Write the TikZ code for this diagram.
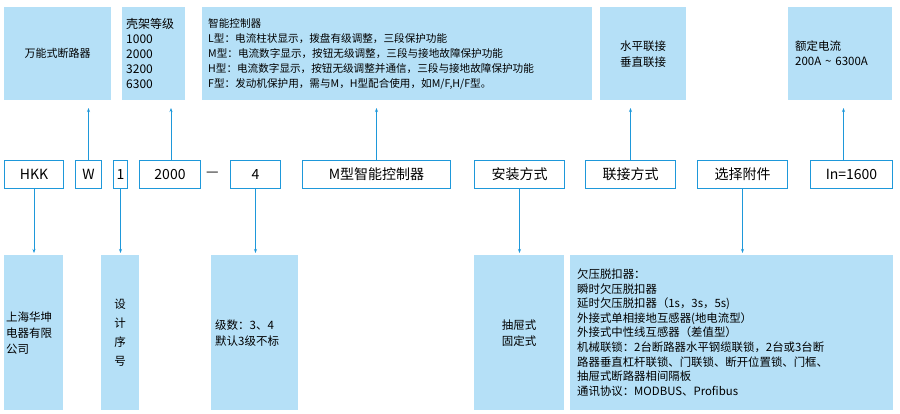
\documentclass[tikz,border=0pt]{standalone}
\usepackage{fontspec}
\setmainfont{Noto Sans CJK SC}
\usetikzlibrary{arrows.meta}
\definecolor{bl}{HTML}{1E98DA}
\definecolor{fl}{HTML}{B5E0F7}
\begin{document}
\begin{tikzpicture}[x=1pt,y=-1pt,
 fbox/.style={fill=fl,anchor=north west,inner sep=0pt,font=\fontsize{11}{14.5}\selectfont},
 code/.style={draw=bl,line width=1pt,fill=white,anchor=north west,inner sep=0pt,minimum height=28pt,font=\fontsize{14}{16}\selectfont},
 arr/.style={bl,line width=0.8pt,-{Stealth[length=4pt,width=3pt]}}]
\useasboundingbox (0,0) rectangle (900,414);
% top boxes
\node[fbox,minimum width=107pt,minimum height=93pt] (t1) at (4,7) {万能式断路器};
\node[fbox,minimum width=63pt,minimum height=93pt,align=left,text width=55pt,font=\fontsize{12}{15}\selectfont] (t2) at (122,7) {壳架等级\\1000\\2000\\3200\\6300};
\node[fbox,minimum width=390pt,minimum height=93pt,align=left,text width=378pt,font=\fontsize{10.6}{15}\selectfont] (t3) at (202,7) {智能控制器\\L型：电流柱状显示，拨盘有级调整，三段保护功能\\M型：电流数字显示，按钮无级调整，三段与接地故障保护功能\\H型：电流数字显示，按钮无级调整并通信，三段与接地故障保护功能\\F型：发动机保护用，需与M，H型配合使用，如M/F,H/F型。};
\node[fbox,minimum width=86pt,minimum height=93pt,align=center,font=\fontsize{11.5}{16}\selectfont] (t4) at (600,7) {水平联接\\垂直联接};
\node[fbox,minimum width=104pt,minimum height=93pt,align=left,text width=90pt,font=\fontsize{11.5}{15}\selectfont] (t5) at (788,7) {额定电流\\200A \textasciitilde\ 6300A};
% code row
\node[code,minimum width=59pt] (c1) at (4,160) {HKK};
\node[code,minimum width=26pt] (c2) at (75,160) {W};
\node[code,minimum width=14pt] (c3) at (113,160) {1};
\node[code,minimum width=61pt] (c4) at (139,160) {2000};
\node[anchor=west,inner sep=0pt,font=\fontsize{14}{16}\selectfont] (dash) at (206,174) {—};
\node[code,minimum width=50pt] (c5) at (230,160) {4};
\node[code,minimum width=148pt] (c6) at (302,160) {M型智能控制器};
\node[code,minimum width=90pt] (c7) at (474,160) {安装方式};
\node[code,minimum width=90pt] (c8) at (585,160) {联接方式};
\node[code,minimum width=90pt] (c9) at (697,160) {选择附件};
\node[code,minimum width=82pt] (c10) at (810,160) {In=1600};
% bottom boxes
\node[fbox,minimum width=59pt,minimum height=155pt,align=left,text width=55pt,font=\fontsize{11.5}{16}\selectfont] (b1) at (4,255) {上海华坤\\电器有限\\公司};
\node[fbox,minimum width=38pt,minimum height=155pt,align=center,font=\fontsize{11.5}{19}\selectfont] (b2) at (101,255) {设\\计\\序\\号};
\node[fbox,minimum width=87pt,minimum height=155pt,align=left,text width=79pt,font=\fontsize{11.5}{16}\selectfont] (b3) at (211,255) {级数：3、4\\默认3级不标};
\node[fbox,minimum width=90pt,minimum height=155pt,align=center,font=\fontsize{11.5}{16}\selectfont] (b4) at (474,255) {抽屉式\\固定式};
\node[fbox,minimum width=323pt,minimum height=155pt,align=left,text width=309pt,font=\fontsize{11.4}{14.6}\selectfont] (b5) at (570,255) {欠压脱扣器：\\瞬时欠压脱扣器\\延时欠压脱扣器（1s，3s，5s)\\外接式单相接地互感器(地电流型）\\外接式中性线互感器（差值型）\\机械联锁：2台断路器水平钢缆联锁，2台或3台断\\路器垂直杠杆联锁、门联锁、断开位置锁、门框、\\抽屉式断路器相间隔板\\通讯协议：MODBUS、Profibus};
% arrows up
\draw[arr] (c2.north) -- ++(0,-52);
\draw[arr] (c4.north) ++(1,0) -- ++(0,-52);
\draw[arr] (c6.north) -- ++(0,-52);
\draw[arr] (c8.north) -- ++(0,-52);
\draw[arr] (c10.north) ++(-8,0) -- ++(0,-52);
% arrows down
\draw[arr] (c1.south) -- ++(0,64);
\draw[arr] (c3.south) -- ++(0,64);
\draw[arr] (c5.south) -- ++(0,64);
\draw[arr] (c7.south) -- ++(0,64);
\draw[arr] (c9.south) -- ++(0,64);
\end{tikzpicture}
\end{document}
